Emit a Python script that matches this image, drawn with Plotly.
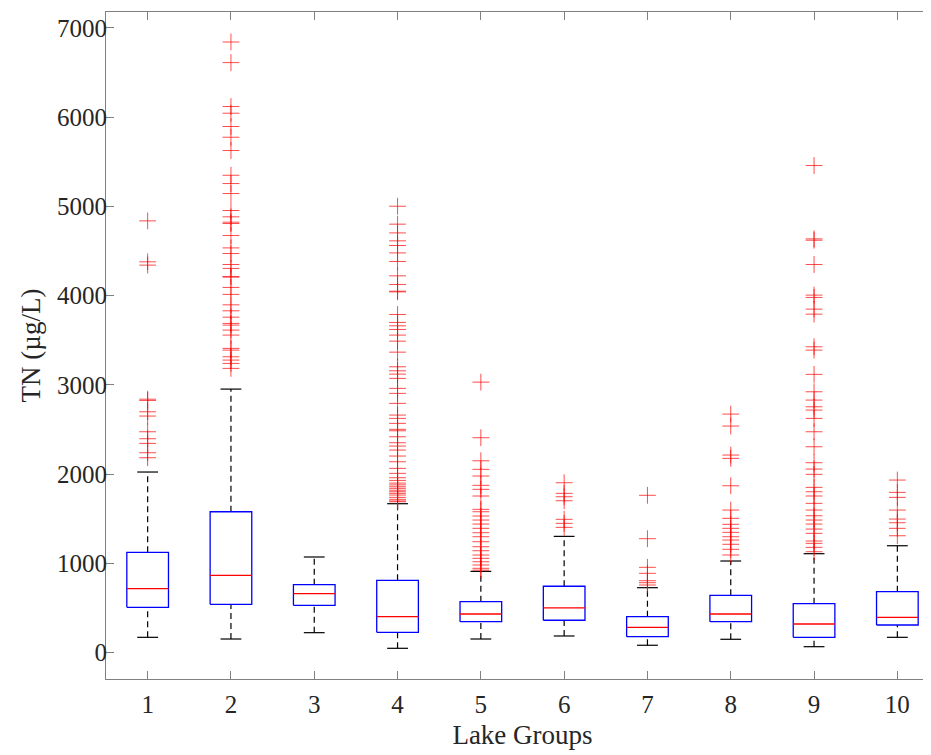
import plotly.graph_objects as go

groups = [1, 2, 3, 4, 5, 6, 7, 8, 9, 10]
q1 = [508, 542, 531, 228, 347, 363, 179, 347, 172, 310]
median = [717, 867, 661, 403, 433, 501, 284, 433, 321, 396]
q3 = [1124, 1579, 762, 811, 571, 744, 403, 643, 549, 683]
whisker_lo = [172, 153, 224, 49, 153, 187, 83, 150, 67, 172]
whisker_hi = [2024, 2953, 1072, 1669, 911, 1303, 728, 1027, 1109, 1198]

out_g1 = [4838, 4379, 4342, 2840, 2826, 2699, 2651, 2475, 2397, 2345, 2240, 2184]
out_g2 = [6842, 6611, 6119, 6044, 5895, 5775, 5626, 5349, 5256, 5144, 4954, 4883,
          4823, 4808, 4674, 4535, 4472, 4349, 4305, 4215, 4207, 4092, 4014, 3897,
          3830, 3759, 3689, 3670, 3614, 3558, 3409, 3390, 3315, 3278, 3241, 3185]
out_g3 = []
out_g4 = [5002, 4801, 4703, 4614, 4562, 4479, 4383, 4222, 4125, 4050, 4042, 3789,
          3700, 3662, 3621, 3558, 3490, 3367, 3203, 3158, 3121, 3073, 2961, 2905,
          2793, 2662, 2625, 2569, 2502, 2486, 2419, 2352, 2315, 2270, 2203, 2139,
          2065, 2009, 1960, 1930, 1900, 1880, 1859, 1841, 1820, 1803, 1785, 1766,
          1740, 1718, 1700, 1691]
out_g5 = [3031, 2408, 2150, 2054, 1979, 1875, 1830, 1755, 1606, 1579, 1531, 1486,
          1441, 1393, 1344, 1299, 1243, 1187, 1142, 1094, 1057, 1019, 982, 945, 925]
out_g6 = [1904, 1785, 1747, 1702, 1494, 1449, 1404]
out_g7 = [1763, 1277, 956, 889, 806, 784, 758]
out_g8 = [2673, 2539, 2214, 2177, 1870, 1598, 1505, 1438, 1393, 1348, 1299, 1262,
          1214, 1158, 1094]
out_g9 = [5458, 4636, 4621, 4349, 4006, 3980, 3849, 3793, 3427, 3390, 3118, 2923,
          2830, 2755, 2718, 2625, 2475, 2307, 2128, 2057, 1998, 1852, 1803, 1755,
          1673, 1598, 1534, 1486, 1441, 1385, 1337, 1251, 1225, 1180, 1131]
out_g10 = [1934, 1796, 1740, 1598, 1497, 1456, 1393, 1310]
outliers = [out_g1, out_g2, out_g3, out_g4, out_g5, out_g6, out_g7, out_g8, out_g9, out_g10]

tick_vals = [0, 1000, 2000, 3000, 4000, 5000, 6000, 7000]

half_box = 0.25
half_cap = 0.125

fig = go.Figure()

# whiskers (dashed)
wx, wy = [], []
for g, a, b, c, d in zip(groups, whisker_lo, q1, q3, whisker_hi):
    wx += [g, g, None, g, g, None]
    wy += [a, b, None, c, d, None]
fig.add_trace(go.Scatter(x=wx, y=wy, mode="lines",
                         line=dict(color="black", width=1.2, dash="6px,4px"),
                         hoverinfo="skip", showlegend=False))
# caps
cx, cy = [], []
for g, a, d in zip(groups, whisker_lo, whisker_hi):
    cx += [g - half_cap, g + half_cap, None, g - half_cap, g + half_cap, None]
    cy += [a, a, None, d, d, None]
fig.add_trace(go.Scatter(x=cx, y=cy, mode="lines",
                         line=dict(color="black", width=1.2),
                         hoverinfo="skip", showlegend=False))
# boxes
bx, by = [], []
for g, b, c in zip(groups, q1, q3):
    bx += [g - half_box, g + half_box, g + half_box, g - half_box, g - half_box, None]
    by += [b, b, c, c, b, None]
fig.add_trace(go.Scatter(x=bx, y=by, mode="lines",
                         line=dict(color="#0000ff", width=1.3),
                         hoverinfo="skip", showlegend=False))
# medians
mx, my = [], []
for g, m in zip(groups, median):
    mx += [g - half_box, g + half_box, None]
    my += [m, m, None]
fig.add_trace(go.Scatter(x=mx, y=my, mode="lines",
                         line=dict(color="#ff0000", width=1.3),
                         hoverinfo="skip", showlegend=False))
# outliers
ox, oy = [], []
for g, outs in zip(groups, outliers):
    for v in outs:
        ox.append(g)
        oy.append(v)
fig.add_trace(go.Scatter(x=ox, y=oy, mode="markers",
                         marker=dict(symbol="cross-thin", size=12,
                                     line=dict(color="rgba(255,0,0,0.7)", width=1)),
                         hoverinfo="skip", showlegend=False))

axis_color = "#808080"
font_family = "Liberation Serif, Times New Roman, serif"

fig.update_layout(
    width=931, height=755,
    margin=dict(l=98, r=0, t=4, b=84, autoexpand=False),
    paper_bgcolor="white", plot_bgcolor="white",
    font=dict(family=font_family, size=25, color="#262626"),
    xaxis=dict(
        range=[0.5, 10.5], tickmode="array", tickvals=groups,
        ticktext=[str(g) for g in groups],
        ticks="inside", ticklen=8, tickcolor=axis_color, tickwidth=1,
        showline=True, linecolor=axis_color, linewidth=1, mirror="ticks",
        showgrid=False, zeroline=False, automargin=False,
        ticklabelstandoff=3,
        title=dict(text="Lake Groups", font=dict(size=27), standoff=8),
        tickfont=dict(size=25),
    ),
    yaxis=dict(
        range=[-295, 7178], tickmode="array", tickvals=tick_vals,
        ticktext=[str(v) for v in tick_vals],
        ticks="inside", ticklen=8, tickcolor=axis_color, tickwidth=1,
        showline=True, linecolor=axis_color, linewidth=1, mirror="ticks",
        showgrid=False, zeroline=False, automargin=False,
        ticklabelstandoff=-7,
        title=dict(text="TN (µg/L)", font=dict(size=27), standoff=8),
        tickfont=dict(size=25),
    ),
)

fig.write_html("out.html")
